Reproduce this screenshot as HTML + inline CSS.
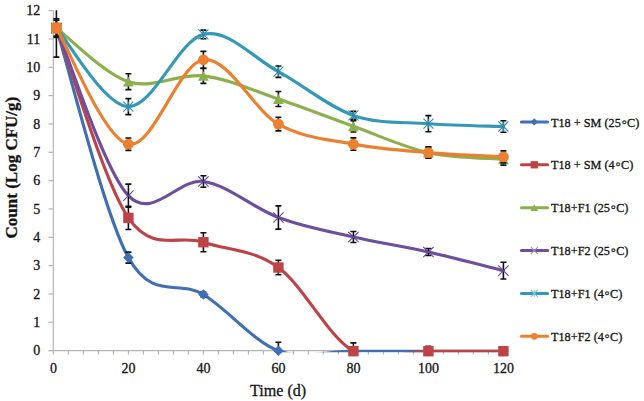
<!DOCTYPE html>
<html><head><meta charset="utf-8"><style>
html,body{margin:0;padding:0;background:#fff;}
#c{position:relative;width:644px;height:401px;overflow:hidden;background:#fff;}
svg{position:absolute;left:0;top:0;font-family:"Liberation Serif",serif;}
text{fill:#141414;stroke:#141414;stroke-width:0.3px;}
</style></head><body><div id="c">
<svg width="644" height="401" viewBox="0 0 644 401">
<line x1="53.3" y1="10.2" x2="53.3" y2="354.6" stroke="#B3B3B3" stroke-width="1.15"/>
<line x1="48.5" y1="350.60" x2="53.3" y2="350.60" stroke="#B3B3B3" stroke-width="1.15"/>
<line x1="48.5" y1="322.27" x2="53.3" y2="322.27" stroke="#B3B3B3" stroke-width="1.15"/>
<line x1="48.5" y1="293.94" x2="53.3" y2="293.94" stroke="#B3B3B3" stroke-width="1.15"/>
<line x1="48.5" y1="265.61" x2="53.3" y2="265.61" stroke="#B3B3B3" stroke-width="1.15"/>
<line x1="48.5" y1="237.28" x2="53.3" y2="237.28" stroke="#B3B3B3" stroke-width="1.15"/>
<line x1="48.5" y1="208.95" x2="53.3" y2="208.95" stroke="#B3B3B3" stroke-width="1.15"/>
<line x1="48.5" y1="180.62" x2="53.3" y2="180.62" stroke="#B3B3B3" stroke-width="1.15"/>
<line x1="48.5" y1="152.29" x2="53.3" y2="152.29" stroke="#B3B3B3" stroke-width="1.15"/>
<line x1="48.5" y1="123.96" x2="53.3" y2="123.96" stroke="#B3B3B3" stroke-width="1.15"/>
<line x1="48.5" y1="95.63" x2="53.3" y2="95.63" stroke="#B3B3B3" stroke-width="1.15"/>
<line x1="48.5" y1="67.30" x2="53.3" y2="67.30" stroke="#B3B3B3" stroke-width="1.15"/>
<line x1="48.5" y1="38.97" x2="53.3" y2="38.97" stroke="#B3B3B3" stroke-width="1.15"/>
<line x1="48.5" y1="10.64" x2="53.3" y2="10.64" stroke="#B3B3B3" stroke-width="1.15"/>
<line x1="48.5" y1="350.6" x2="503.90" y2="350.6" stroke="#B3B3B3" stroke-width="1.15"/>
<line x1="68.40" y1="350.6" x2="68.40" y2="354.6" stroke="#B3B3B3" stroke-width="1.1"/>
<line x1="83.40" y1="350.6" x2="83.40" y2="354.6" stroke="#B3B3B3" stroke-width="1.1"/>
<line x1="98.40" y1="350.6" x2="98.40" y2="354.6" stroke="#B3B3B3" stroke-width="1.1"/>
<line x1="113.40" y1="350.6" x2="113.40" y2="354.6" stroke="#B3B3B3" stroke-width="1.1"/>
<line x1="128.40" y1="350.6" x2="128.40" y2="354.6" stroke="#B3B3B3" stroke-width="1.1"/>
<line x1="143.40" y1="350.6" x2="143.40" y2="354.6" stroke="#B3B3B3" stroke-width="1.1"/>
<line x1="158.40" y1="350.6" x2="158.40" y2="354.6" stroke="#B3B3B3" stroke-width="1.1"/>
<line x1="173.40" y1="350.6" x2="173.40" y2="354.6" stroke="#B3B3B3" stroke-width="1.1"/>
<line x1="188.40" y1="350.6" x2="188.40" y2="354.6" stroke="#B3B3B3" stroke-width="1.1"/>
<line x1="203.40" y1="350.6" x2="203.40" y2="354.6" stroke="#B3B3B3" stroke-width="1.1"/>
<line x1="218.40" y1="350.6" x2="218.40" y2="354.6" stroke="#B3B3B3" stroke-width="1.1"/>
<line x1="233.40" y1="350.6" x2="233.40" y2="354.6" stroke="#B3B3B3" stroke-width="1.1"/>
<line x1="248.40" y1="350.6" x2="248.40" y2="354.6" stroke="#B3B3B3" stroke-width="1.1"/>
<line x1="263.40" y1="350.6" x2="263.40" y2="354.6" stroke="#B3B3B3" stroke-width="1.1"/>
<line x1="278.40" y1="350.6" x2="278.40" y2="354.6" stroke="#B3B3B3" stroke-width="1.1"/>
<line x1="293.40" y1="350.6" x2="293.40" y2="354.6" stroke="#B3B3B3" stroke-width="1.1"/>
<line x1="308.40" y1="350.6" x2="308.40" y2="354.6" stroke="#B3B3B3" stroke-width="1.1"/>
<line x1="323.40" y1="350.6" x2="323.40" y2="354.6" stroke="#B3B3B3" stroke-width="1.1"/>
<line x1="338.40" y1="350.6" x2="338.40" y2="354.6" stroke="#B3B3B3" stroke-width="1.1"/>
<line x1="353.40" y1="350.6" x2="353.40" y2="354.6" stroke="#B3B3B3" stroke-width="1.1"/>
<line x1="368.40" y1="350.6" x2="368.40" y2="354.6" stroke="#B3B3B3" stroke-width="1.1"/>
<line x1="383.40" y1="350.6" x2="383.40" y2="354.6" stroke="#B3B3B3" stroke-width="1.1"/>
<line x1="398.40" y1="350.6" x2="398.40" y2="354.6" stroke="#B3B3B3" stroke-width="1.1"/>
<line x1="413.40" y1="350.6" x2="413.40" y2="354.6" stroke="#B3B3B3" stroke-width="1.1"/>
<line x1="428.40" y1="350.6" x2="428.40" y2="354.6" stroke="#B3B3B3" stroke-width="1.1"/>
<line x1="443.40" y1="350.6" x2="443.40" y2="354.6" stroke="#B3B3B3" stroke-width="1.1"/>
<line x1="458.40" y1="350.6" x2="458.40" y2="354.6" stroke="#B3B3B3" stroke-width="1.1"/>
<line x1="473.40" y1="350.6" x2="473.40" y2="354.6" stroke="#B3B3B3" stroke-width="1.1"/>
<line x1="488.40" y1="350.6" x2="488.40" y2="354.6" stroke="#B3B3B3" stroke-width="1.1"/>
<line x1="503.40" y1="350.6" x2="503.40" y2="354.6" stroke="#B3B3B3" stroke-width="1.1"/>
<defs><clipPath id="pa"><rect x="40" y="10.3" width="480" height="342.0"/></clipPath><clipPath id="pe"><rect x="40" y="10.3" width="480" height="340.5"/></clipPath></defs>
<path d="M56.40,28.10 C68.40,66.35 103.90,213.20 128.40,257.60 C152.90,302.00 178.40,278.97 203.40,294.50 C228.40,310.03 253.40,341.35 278.40,350.80 C303.40,360.25 328.40,351.13 353.40,351.20 C378.40,351.27 403.40,351.20 428.40,351.20 C453.40,351.20 490.90,351.20 503.40,351.20" stroke="#3F6FB5" stroke-width="3.15" fill="none" clip-path="url(#pa)" stroke-linecap="round"/>
<path d="M128.40,252.10 L128.40,263.10 M125.40,252.10 L131.40,252.10 M125.40,263.10 L131.40,263.10 M203.40,292.00 L203.40,297.00 M200.40,292.00 L206.40,292.00 M200.40,297.00 L206.40,297.00 M278.40,342.30 L278.40,359.30 M275.40,342.30 L281.40,342.30 M275.40,359.30 L281.40,359.30" stroke="#111" stroke-width="1.6" fill="none" clip-path="url(#pe)"/>
<path d="M56.40,22.80 L61.70,28.10 L56.40,33.40 L51.10,28.10 Z" fill="#3F6FB5"/>
<path d="M128.40,252.30 L133.70,257.60 L128.40,262.90 L123.10,257.60 Z" fill="#3F6FB5"/>
<path d="M203.40,289.20 L208.70,294.50 L203.40,299.80 L198.10,294.50 Z" fill="#3F6FB5"/>
<path d="M278.40,345.50 L283.70,350.80 L278.40,356.10 L273.10,350.80 Z" fill="#3F6FB5"/>
<path d="M353.40,345.90 L358.70,351.20 L353.40,356.50 L348.10,351.20 Z" fill="#3F6FB5"/>
<path d="M428.40,345.90 L433.70,351.20 L428.40,356.50 L423.10,351.20 Z" fill="#3F6FB5"/>
<path d="M503.40,345.90 L508.70,351.20 L503.40,356.50 L498.10,351.20 Z" fill="#3F6FB5"/>
<path d="M56.40,28.10 C68.40,59.73 103.90,182.22 128.40,217.90 C152.90,253.58 178.40,233.93 203.40,242.20 C228.40,250.47 253.40,249.33 278.40,267.50 C303.40,285.67 328.40,337.25 353.40,351.20 C378.40,365.15 403.40,351.20 428.40,351.20 C453.40,351.20 490.90,351.20 503.40,351.20" stroke="#BE4346" stroke-width="3.15" fill="none" clip-path="url(#pa)" stroke-linecap="round"/>
<path d="M128.40,206.30 L128.40,229.50 M125.40,206.30 L131.40,206.30 M125.40,229.50 L131.40,229.50 M203.40,232.70 L203.40,251.70 M200.40,232.70 L206.40,232.70 M200.40,251.70 L206.40,251.70 M278.40,260.30 L278.40,274.70 M275.40,260.30 L281.40,260.30 M275.40,274.70 L281.40,274.70 M353.40,342.90 L353.40,359.50 M350.40,342.90 L356.40,342.90 M350.40,359.50 L356.40,359.50 M428.40,346.20 L428.40,356.20 M425.40,346.20 L431.40,346.20 M425.40,356.20 L431.40,356.20" stroke="#111" stroke-width="1.6" fill="none" clip-path="url(#pe)"/>
<rect x="51.20" y="22.90" width="10.40" height="10.40" fill="#BE4346"/>
<rect x="123.20" y="212.70" width="10.40" height="10.40" fill="#BE4346"/>
<rect x="198.20" y="237.00" width="10.40" height="10.40" fill="#BE4346"/>
<rect x="273.20" y="262.30" width="10.40" height="10.40" fill="#BE4346"/>
<rect x="348.20" y="346.00" width="10.40" height="10.40" fill="#BE4346"/>
<rect x="423.20" y="346.00" width="10.40" height="10.40" fill="#BE4346"/>
<rect x="498.20" y="346.00" width="10.40" height="10.40" fill="#BE4346"/>
<path d="M56.40,28.10 C68.40,37.03 103.90,73.73 128.40,81.70 C152.90,89.67 178.40,73.02 203.40,75.90 C228.40,78.78 253.40,90.60 278.40,99.00 C303.40,107.40 328.40,117.37 353.40,126.30 C378.40,135.23 403.40,147.10 428.40,152.60 C453.40,158.10 490.90,158.18 503.40,159.30" stroke="#8BB04C" stroke-width="3.15" fill="none" clip-path="url(#pa)" stroke-linecap="round"/>
<path d="M56.40,18.70 L56.40,37.50 M53.40,18.70 L59.40,18.70 M53.40,37.50 L59.40,37.50 M128.40,73.80 L128.40,89.60 M125.40,73.80 L131.40,73.80 M125.40,89.60 L131.40,89.60 M203.40,68.40 L203.40,83.40 M200.40,68.40 L206.40,68.40 M200.40,83.40 L206.40,83.40 M278.40,91.50 L278.40,106.50 M275.40,91.50 L281.40,91.50 M275.40,106.50 L281.40,106.50 M353.40,120.60 L353.40,132.00 M350.40,120.60 L356.40,120.60 M350.40,132.00 L356.40,132.00 M428.40,147.60 L428.40,157.60 M425.40,147.60 L431.40,147.60 M425.40,157.60 L431.40,157.60 M503.40,153.50 L503.40,165.10 M500.40,153.50 L506.40,153.50 M500.40,165.10 L506.40,165.10" stroke="#111" stroke-width="1.6" fill="none" clip-path="url(#pe)"/>
<path d="M56.40,23.20 L61.80,33.00 L51.00,33.00 Z" fill="#8BB04C"/>
<path d="M128.40,76.80 L133.80,86.60 L123.00,86.60 Z" fill="#8BB04C"/>
<path d="M203.40,71.00 L208.80,80.80 L198.00,80.80 Z" fill="#8BB04C"/>
<path d="M278.40,94.10 L283.80,103.90 L273.00,103.90 Z" fill="#8BB04C"/>
<path d="M353.40,121.40 L358.80,131.20 L348.00,131.20 Z" fill="#8BB04C"/>
<path d="M428.40,147.70 L433.80,157.50 L423.00,157.50 Z" fill="#8BB04C"/>
<path d="M503.40,154.40 L508.80,164.20 L498.00,164.20 Z" fill="#8BB04C"/>
<path d="M56.40,28.10 C68.40,56.02 103.90,170.03 128.40,195.60 C152.90,221.17 178.40,177.85 203.40,181.50 C228.40,185.15 253.40,208.25 278.40,217.50 C303.40,226.75 328.40,231.25 353.40,237.00 C378.40,242.75 403.40,246.40 428.40,252.00 C453.40,257.60 490.90,267.50 503.40,270.60" stroke="#6E4E9E" stroke-width="3.15" fill="none" clip-path="url(#pa)" stroke-linecap="round"/>
<path d="M56.40,20.10 L56.40,36.10 M53.40,20.10 L59.40,20.10 M53.40,36.10 L59.40,36.10 M128.40,184.10 L128.40,207.10 M125.40,184.10 L131.40,184.10 M125.40,207.10 L131.40,207.10 M203.40,175.70 L203.40,187.30 M200.40,175.70 L206.40,175.70 M200.40,187.30 L206.40,187.30 M278.40,205.90 L278.40,229.10 M275.40,205.90 L281.40,205.90 M275.40,229.10 L281.40,229.10 M353.40,231.50 L353.40,242.50 M350.40,231.50 L356.40,231.50 M350.40,242.50 L356.40,242.50 M428.40,248.50 L428.40,255.50 M425.40,248.50 L431.40,248.50 M425.40,255.50 L431.40,255.50 M503.40,262.20 L503.40,279.00 M500.40,262.20 L506.40,262.20 M500.40,279.00 L506.40,279.00" stroke="#111" stroke-width="1.6" fill="none" clip-path="url(#pe)"/>
<path d="M51.20,22.90 L61.60,33.30 M61.60,22.90 L51.20,33.30" stroke="#64489A" stroke-width="1.1" fill="none"/>
<path d="M123.20,190.40 L133.60,200.80 M133.60,190.40 L123.20,200.80" stroke="#64489A" stroke-width="1.1" fill="none"/>
<path d="M198.20,176.30 L208.60,186.70 M208.60,176.30 L198.20,186.70" stroke="#64489A" stroke-width="1.1" fill="none"/>
<path d="M273.20,212.30 L283.60,222.70 M283.60,212.30 L273.20,222.70" stroke="#64489A" stroke-width="1.1" fill="none"/>
<path d="M348.20,231.80 L358.60,242.20 M358.60,231.80 L348.20,242.20" stroke="#64489A" stroke-width="1.1" fill="none"/>
<path d="M423.20,246.80 L433.60,257.20 M433.60,246.80 L423.20,257.20" stroke="#64489A" stroke-width="1.1" fill="none"/>
<path d="M498.20,265.40 L508.60,275.80 M508.60,265.40 L498.20,275.80" stroke="#64489A" stroke-width="1.1" fill="none"/>
<path d="M56.40,28.10 C68.40,41.18 103.90,105.55 128.40,106.60 C152.90,107.65 178.40,40.22 203.40,34.40 C228.40,28.58 253.40,58.20 278.40,71.70 C303.40,85.20 328.40,106.73 353.40,115.40 C378.40,124.07 403.40,121.85 428.40,123.70 C453.40,125.55 490.90,126.03 503.40,126.50" stroke="#3499B8" stroke-width="3.15" fill="none" clip-path="url(#pa)" stroke-linecap="round"/>
<path d="M128.40,98.60 L128.40,114.60 M125.40,98.60 L131.40,98.60 M125.40,114.60 L131.40,114.60 M203.40,30.10 L203.40,38.70 M200.40,30.10 L206.40,30.10 M200.40,38.70 L206.40,38.70 M278.40,66.00 L278.40,77.40 M275.40,66.00 L281.40,66.00 M275.40,77.40 L281.40,77.40 M353.40,111.40 L353.40,119.40 M350.40,111.40 L356.40,111.40 M350.40,119.40 L356.40,119.40 M428.40,115.60 L428.40,131.80 M425.40,115.60 L431.40,115.60 M425.40,131.80 L431.40,131.80 M503.40,120.80 L503.40,132.20 M500.40,120.80 L506.40,120.80 M500.40,132.20 L506.40,132.20" stroke="#111" stroke-width="1.6" fill="none" clip-path="url(#pe)"/>
<path d="M51.40,23.10 L61.40,33.10 M61.40,23.10 L51.40,33.10 M56.40,23.10 L56.40,33.10" stroke="#2F8FAD" stroke-width="1.1" fill="none"/>
<path d="M123.40,101.60 L133.40,111.60 M133.40,101.60 L123.40,111.60 M128.40,101.60 L128.40,111.60" stroke="#2F8FAD" stroke-width="1.1" fill="none"/>
<path d="M198.40,29.40 L208.40,39.40 M208.40,29.40 L198.40,39.40 M203.40,29.40 L203.40,39.40" stroke="#2F8FAD" stroke-width="1.1" fill="none"/>
<path d="M273.40,66.70 L283.40,76.70 M283.40,66.70 L273.40,76.70 M278.40,66.70 L278.40,76.70" stroke="#2F8FAD" stroke-width="1.1" fill="none"/>
<path d="M348.40,110.40 L358.40,120.40 M358.40,110.40 L348.40,120.40 M353.40,110.40 L353.40,120.40" stroke="#2F8FAD" stroke-width="1.1" fill="none"/>
<path d="M423.40,118.70 L433.40,128.70 M433.40,118.70 L423.40,128.70 M428.40,118.70 L428.40,128.70" stroke="#2F8FAD" stroke-width="1.1" fill="none"/>
<path d="M498.40,121.50 L508.40,131.50 M508.40,121.50 L498.40,131.50 M503.40,121.50 L503.40,131.50" stroke="#2F8FAD" stroke-width="1.1" fill="none"/>
<path d="M56.40,28.10 C68.40,47.45 103.90,138.92 128.40,144.20 C152.90,149.48 178.40,63.15 203.40,59.80 C228.40,56.45 253.40,110.05 278.40,124.10 C303.40,138.15 328.40,139.35 353.40,144.10 C378.40,148.85 403.40,150.47 428.40,152.60 C453.40,154.73 490.90,156.18 503.40,156.90" stroke="#EC8030" stroke-width="3.15" fill="none" clip-path="url(#pa)" stroke-linecap="round"/>
<path d="M56.40,-0.90 L56.40,57.10 M53.40,-0.90 L59.40,-0.90 M53.40,57.10 L59.40,57.10 M128.40,138.00 L128.40,150.40 M125.40,138.00 L131.40,138.00 M125.40,150.40 L131.40,150.40 M203.40,51.40 L203.40,68.20 M200.40,51.40 L206.40,51.40 M200.40,68.20 L206.40,68.20 M278.40,117.30 L278.40,130.90 M275.40,117.30 L281.40,117.30 M275.40,130.90 L281.40,130.90 M353.40,137.90 L353.40,150.30 M350.40,137.90 L356.40,137.90 M350.40,150.30 L356.40,150.30 M428.40,146.90 L428.40,158.30 M425.40,146.90 L431.40,146.90 M425.40,158.30 L431.40,158.30 M503.40,150.90 L503.40,162.90 M500.40,150.90 L506.40,150.90 M500.40,162.90 L506.40,162.90" stroke="#111" stroke-width="1.6" fill="none" clip-path="url(#pe)"/>
<circle cx="56.40" cy="28.10" r="5.40" fill="#EC8030"/>
<circle cx="128.40" cy="144.20" r="5.40" fill="#EC8030"/>
<circle cx="203.40" cy="59.80" r="5.40" fill="#EC8030"/>
<circle cx="278.40" cy="124.10" r="5.40" fill="#EC8030"/>
<circle cx="353.40" cy="144.10" r="5.40" fill="#EC8030"/>
<circle cx="428.40" cy="152.60" r="5.40" fill="#EC8030"/>
<circle cx="503.40" cy="156.90" r="5.40" fill="#EC8030"/>
<rect x="51.2" y="22.6" width="10.4" height="10.9" rx="2.2" fill="#EC8030"/>
<line x1="521.4" y1="121.90" x2="547.6" y2="121.90" stroke="#3F6FB5" stroke-width="3.0" stroke-linecap="round"/>
<path d="M534.30,118.19 L538.01,121.90 L534.30,125.61 L530.59,121.90 Z" fill="#3F6FB5"/>
<line x1="521.4" y1="164.78" x2="547.6" y2="164.78" stroke="#BE4346" stroke-width="3.0" stroke-linecap="round"/>
<rect x="530.66" y="161.14" width="7.28" height="7.28" fill="#BE4346"/>
<line x1="521.4" y1="207.66" x2="547.6" y2="207.66" stroke="#8BB04C" stroke-width="3.0" stroke-linecap="round"/>
<path d="M534.30,204.23 L538.08,211.09 L530.52,211.09 Z" fill="#8BB04C"/>
<line x1="521.4" y1="250.54" x2="547.6" y2="250.54" stroke="#6E4E9E" stroke-width="3.0" stroke-linecap="round"/>
<path d="M530.87,247.11 L537.73,253.97 M537.73,247.11 L530.87,253.97" stroke="#A08BC4" stroke-width="1.1" fill="none"/>
<line x1="521.4" y1="293.42" x2="547.6" y2="293.42" stroke="#3499B8" stroke-width="3.0" stroke-linecap="round"/>
<path d="M530.80,289.92 L537.80,296.92 M537.80,289.92 L530.80,296.92 M534.30,289.92 L534.30,296.92" stroke="#7CC3D6" stroke-width="1.1" fill="none"/>
<line x1="521.4" y1="336.30" x2="547.6" y2="336.30" stroke="#EC8030" stroke-width="3.0" stroke-linecap="round"/>
<circle cx="534.30" cy="336.30" r="3.35" fill="#EC8030"/>
<text x="40.3" y="355.20" text-anchor="end" font-size="14">0</text>
<text x="40.3" y="326.87" text-anchor="end" font-size="14">1</text>
<text x="40.3" y="298.54" text-anchor="end" font-size="14">2</text>
<text x="40.3" y="270.21" text-anchor="end" font-size="14">3</text>
<text x="40.3" y="241.88" text-anchor="end" font-size="14">4</text>
<text x="40.3" y="213.55" text-anchor="end" font-size="14">5</text>
<text x="40.3" y="185.22" text-anchor="end" font-size="14">6</text>
<text x="40.3" y="156.89" text-anchor="end" font-size="14">7</text>
<text x="40.3" y="128.56" text-anchor="end" font-size="14">8</text>
<text x="40.3" y="100.23" text-anchor="end" font-size="14">9</text>
<text x="40.3" y="71.90" text-anchor="end" font-size="14">10</text>
<text x="40.3" y="43.57" text-anchor="end" font-size="14">11</text>
<text x="40.3" y="15.24" text-anchor="end" font-size="14">12</text>
<text x="53.40" y="373.0" text-anchor="middle" font-size="14">0</text>
<text x="128.40" y="373.0" text-anchor="middle" font-size="14">20</text>
<text x="203.40" y="373.0" text-anchor="middle" font-size="14">40</text>
<text x="278.40" y="373.0" text-anchor="middle" font-size="14">60</text>
<text x="353.40" y="373.0" text-anchor="middle" font-size="14">80</text>
<text x="428.40" y="373.0" text-anchor="middle" font-size="14">100</text>
<text x="503.40" y="373.0" text-anchor="middle" font-size="14">120</text>
<text x="551" y="126.50" font-size="12.25">T18 + SM (25<tspan font-size="15" dx="0.5">&#x25E6;</tspan><tspan dx="0.4">C)</tspan></text>
<text x="551" y="169.38" font-size="12.25">T18 + SM (4<tspan font-size="15" dx="0.5">&#x25E6;</tspan><tspan dx="0.4">C)</tspan></text>
<text x="551" y="212.26" font-size="12.25">T18+F1 (25<tspan font-size="15" dx="0.5">&#x25E6;</tspan><tspan dx="0.4">C)</tspan></text>
<text x="551" y="255.14" font-size="12.25">T18+F2 (25<tspan font-size="15" dx="0.5">&#x25E6;</tspan><tspan dx="0.4">C)</tspan></text>
<text x="551" y="298.02" font-size="12.25">T18+F1 (4<tspan font-size="15" dx="0.5">&#x25E6;</tspan><tspan dx="0.4">C)</tspan></text>
<text x="551" y="340.90" font-size="12.25">T18+F2 (4<tspan font-size="15" dx="0.5">&#x25E6;</tspan><tspan dx="0.4">C)</tspan></text>
<text x="278.1" y="395.8" text-anchor="middle" font-size="16.1">Time (d)</text>
<text transform="translate(17.3,167.6) rotate(-90)" text-anchor="middle" font-size="17" font-weight="bold">Count (Log CFU/g)</text>
</svg>
</div></body></html>
